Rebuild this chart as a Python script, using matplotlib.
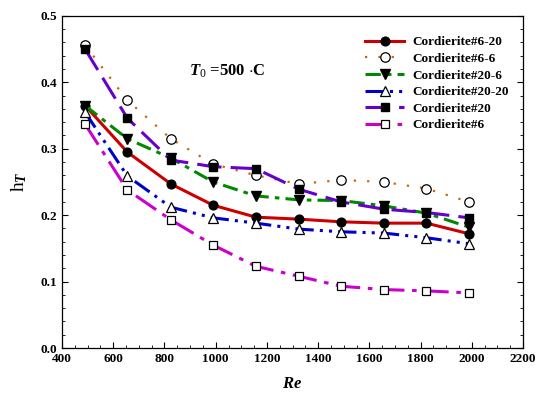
import matplotlib.pyplot as plt
from matplotlib.ticker import MultipleLocator

plt.rcParams.update({
    "font.family": "serif",
    "font.serif": ["Liberation Serif", "DejaVu Serif"],
    "font.weight": "bold",
    "mathtext.fontset": "custom",
    "mathtext.rm": "Liberation Serif:normal",
    "mathtext.it": "Liberation Serif:italic:bold",
    "mathtext.bf": "Liberation Serif:bold",
})

# Reynolds numbers
re = [490, 655, 825, 990, 1157, 1325, 1490, 1657, 1823, 1989]

# h_T for each sample
c6_20 = [0.365, 0.295, 0.247, 0.215, 0.197, 0.194, 0.190, 0.188, 0.188, 0.172]
c6_6 = [0.456, 0.373, 0.315, 0.277, 0.260, 0.247, 0.253, 0.250, 0.240, 0.220]
c20_6 = [0.365, 0.315, 0.286, 0.250, 0.229, 0.223, 0.222, 0.214, 0.203, 0.182]
c20_20 = [0.355, 0.259, 0.212, 0.196, 0.188, 0.179, 0.175, 0.173, 0.166, 0.157]
c20 = [0.450, 0.346, 0.283, 0.273, 0.270, 0.239, 0.220, 0.209, 0.204, 0.196]
c6 = [0.337, 0.238, 0.193, 0.155, 0.123, 0.108, 0.093, 0.088, 0.086, 0.083]

fig = plt.figure(figsize=(5.37, 3.98), dpi=100)
ax = fig.add_axes([0.1155, 0.1256, 0.8585, 0.8344])

ax.plot(re, c6_20, color='#CC0000', linestyle='-', linewidth=2.2, marker='o',
        markersize=6.3, markerfacecolor='black', markeredgecolor='black', label='Cordierite#6-20')
ax.plot(re, c6_6, color='#CC6600', linestyle=(0, (1, 5)), linewidth=1.6, marker='o',
        markersize=6.8, markerfacecolor='white', markeredgecolor='black', markeredgewidth=0.9,
        label='Cordierite#6-6')
ax.plot(re, c20_6, color='#008800', linestyle=(0, (5, 2, 1.5, 2)), linewidth=2.2, marker='v',
        markersize=6.8, markerfacecolor='black', markeredgecolor='black', label='Cordierite#20-6')
ax.plot(re, c20_20, color='#0000CC', linestyle=(0, (6, 2, 1, 2, 1, 2)), linewidth=2.2, marker='^',
        markersize=6.8, markerfacecolor='white', markeredgecolor='black', markeredgewidth=0.9,
        label='Cordierite#20-20')
ax.plot(re, c20, color='#6600CC', linestyle=(0, (8, 3)), linewidth=2.2, marker='s',
        markersize=6.3, markerfacecolor='black', markeredgecolor='black', label='Cordierite#20')
ax.plot(re, c6, color='#CC00CC', linestyle=(0, (8, 2.5, 1.5, 2.5)), linewidth=2.2, marker='s',
        markersize=6.3, markerfacecolor='white', markeredgecolor='black', markeredgewidth=0.9,
        label='Cordierite#6')

ax.set_xlim(400, 2200)
ax.set_ylim(0, 0.5)
ax.xaxis.set_major_locator(MultipleLocator(200))
ax.xaxis.set_minor_locator(MultipleLocator(50))
ax.yaxis.set_major_locator(MultipleLocator(0.1))
ax.yaxis.set_minor_locator(MultipleLocator(0.02))
ax.yaxis.set_major_formatter(plt.FuncFormatter(lambda v, p: f"{v:.1f}"))
ax.tick_params(which='both', direction='in', top=False, right=True, labelsize=9.5)
ax.tick_params(which='major', length=4)
ax.tick_params(which='minor', length=2)
for lab in ax.get_xticklabels() + ax.get_yticklabels():
    lab.set_fontweight('bold')
for s in ax.spines.values():
    s.set_linewidth(0.9)

ax.set_xlabel(r'$Re$', fontsize=12, labelpad=8)
ax.set_ylabel(r'$\mathrm{h}_{T}$', fontsize=14, labelpad=8)

ax.text(896, 0.416, r'$T_{\mathit{0}}$ =500 $\cdot$C', fontsize=12, fontweight='bold', va='center')

leg = ax.legend(loc='upper right', bbox_to_anchor=(0.989, 0.967), frameon=False,
                handlelength=3.0, labelspacing=0.33, borderaxespad=0.3, handletextpad=0.6,
                prop={'weight': 'bold', 'size': 9.5})

plt.savefig('out.png', dpi=100)
